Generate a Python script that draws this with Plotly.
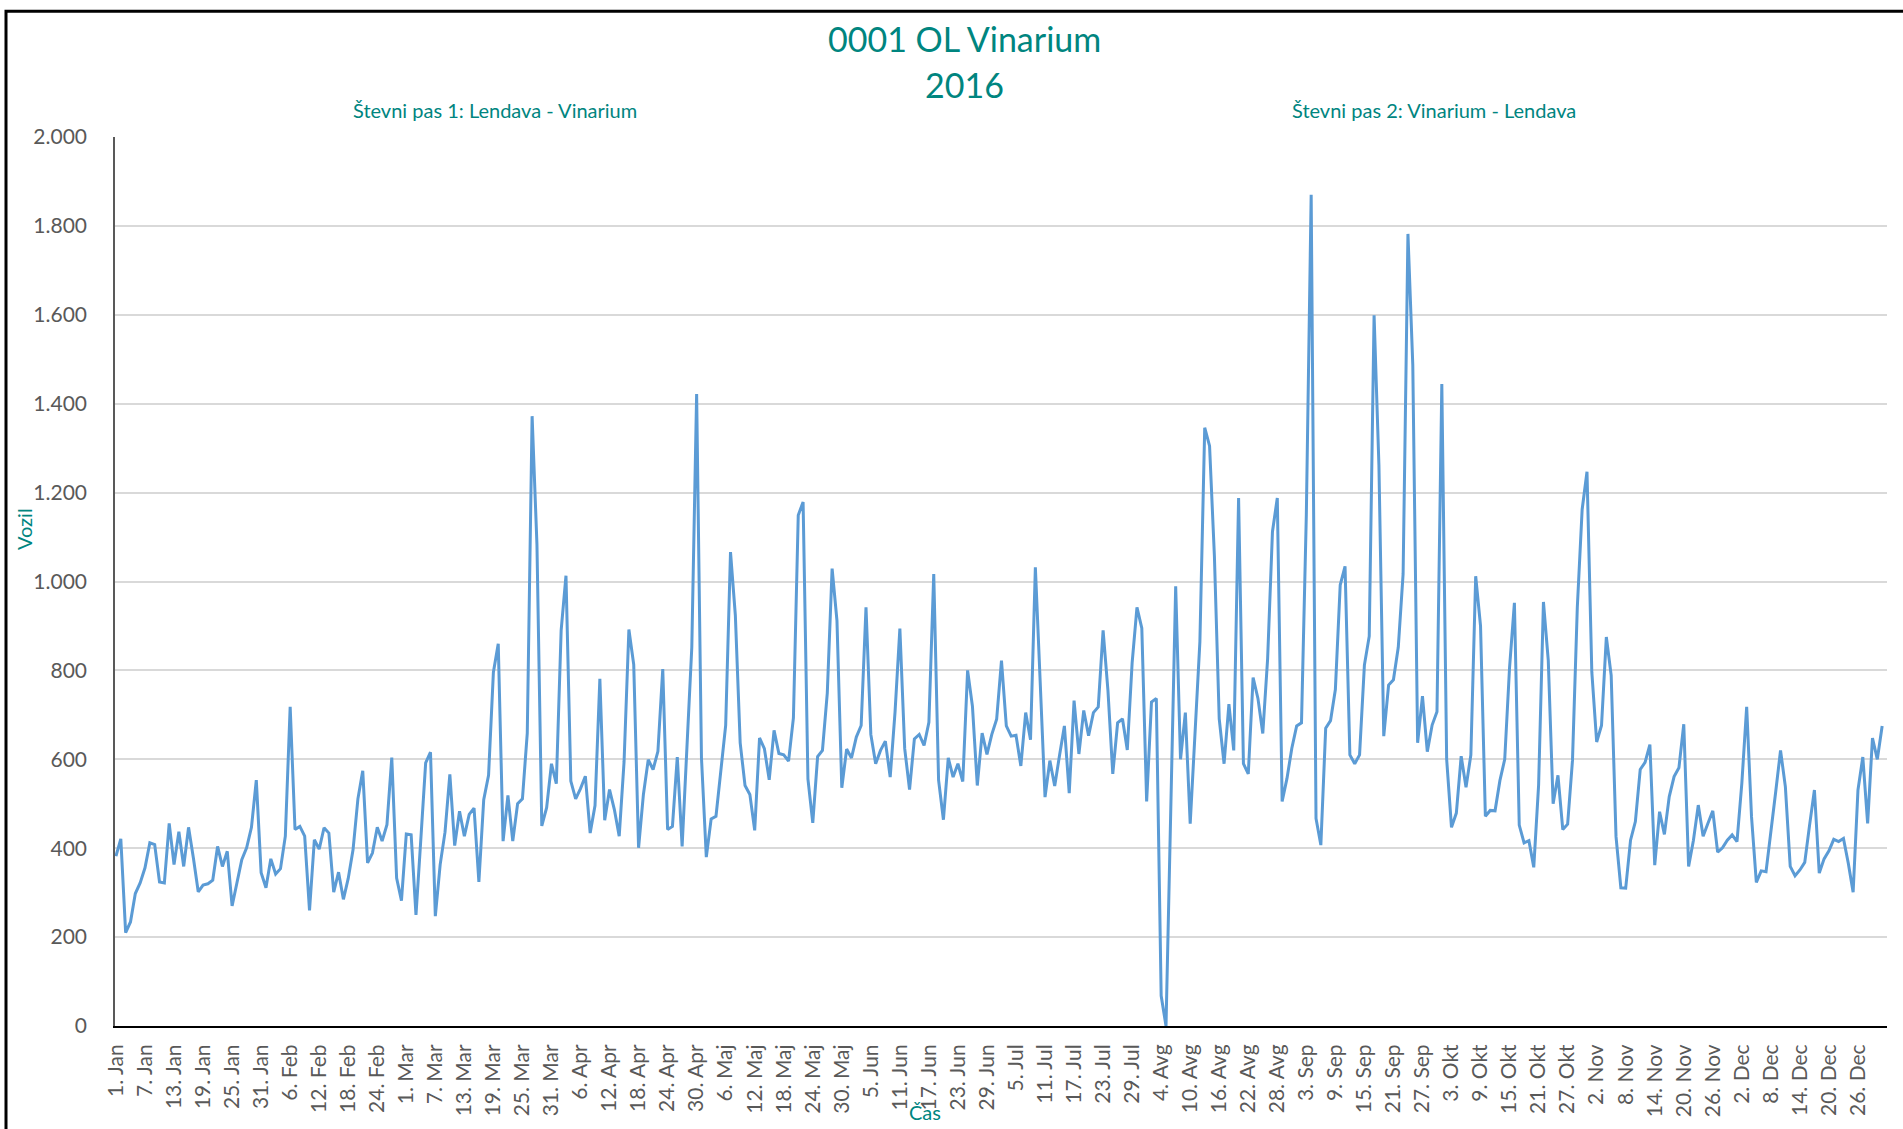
import pandas as pd
import plotly.graph_objects as go

# ---- data (daily vehicle counts, 2016) ----
month_names = ["Jan", "Feb", "Mar", "Apr", "Maj", "Jun", "Jul", "Avg", "Sep", "Okt", "Nov", "Dec"]

jan = [382, 421, 210, 234, 298, 322, 356, 412, 408, 324, 322, 456, 363, 437, 359, 447, 378, 302, 317, 320, 328, 404, 359, 393, 270, 322, 374, 401, 447, 553, 345]
feb = [311, 376, 342, 354, 427, 718, 442, 449, 427, 260, 419, 398, 446, 434, 301, 346, 285, 332, 397, 511, 574, 367, 389, 447, 416, 453, 604, 333, 282]
mar = [432, 430, 250, 420, 592, 616, 247, 363, 436, 566, 406, 483, 427, 476, 490, 324, 509, 564, 796, 860, 416, 519, 416, 500, 511, 659, 1372, 1083, 450, 491, 590]
apr = [545, 890, 1013, 551, 511, 534, 562, 434, 496, 781, 463, 532, 487, 427, 594, 892, 813, 401, 521, 599, 577, 618, 803, 442, 449, 605, 404, 629, 852, 1422]
maj = [603, 380, 466, 472, 569, 676, 1066, 924, 637, 541, 521, 440, 648, 624, 554, 665, 613, 610, 596, 693, 1149, 1179, 556, 457, 606, 620, 749, 1029, 912, 536, 623]
jun = [603, 650, 676, 942, 656, 590, 620, 641, 560, 706, 894, 624, 532, 646, 656, 631, 683, 1017, 553, 464, 603, 560, 590, 550, 800, 719, 541, 659, 611, 656]
jul = [690, 822, 675, 652, 654, 585, 705, 644, 1032, 774, 515, 597, 540, 609, 675, 524, 732, 612, 710, 653, 705, 718, 890, 755, 567, 682, 691, 621, 817, 942, 895]
avg = [505, 729, 737, 68, 0, 463, 989, 600, 705, 455, 661, 864, 1346, 1305, 1058, 691, 590, 724, 620, 1188, 590, 567, 784, 737, 658, 826, 1112, 1188, 505, 557, 625]
sep = [675, 682, 1150, 1870, 467, 407, 670, 687, 757, 992, 1034, 610, 590, 610, 812, 877, 1599, 1262, 652, 767, 779, 852, 1017, 1782, 1487, 637, 742, 617, 677, 707]
okt = [1444, 600, 447, 479, 607, 537, 610, 1012, 900, 472, 485, 484, 552, 600, 807, 952, 452, 412, 417, 357, 542, 954, 822, 500, 564, 442, 454, 597, 942, 1162, 1247]
nov = [796, 639, 676, 875, 789, 426, 311, 310, 418, 460, 577, 593, 633, 362, 482, 431, 516, 561, 581, 679, 359, 418, 497, 427, 456, 484, 391, 401, 418, 430]
dec = [415, 546, 718, 471, 323, 349, 347, 433, 527, 620, 538, 359, 338, 351, 368, 452, 531, 344, 376, 394, 420, 415, 422, 366, 301, 531, 605, 456, 648, 600, 675]

values = jan + feb + mar + apr + maj + jun + jul + avg + sep + okt + nov + dec
dates = pd.date_range("2016-01-01", "2016-12-31", freq="D")
categories = [f"{d.day}. {month_names[d.month - 1]}" for d in dates]
tick_labels = categories[::6]

TEAL = "#00857F"
GREY = "#595959"
FONT = "Lato"

W, H = 1903, 1129
L, R, T, B = 115, 16, 137, 101
PW, PH = W - L - R, H - T - B


def px(x):
    return (x - L) / PW


def py(y):
    return (H - B - y) / PH


fig = go.Figure()
fig.add_trace(go.Scatter(
    x=categories, y=values, mode="lines",
    line=dict(color="#5B9BD5", width=3),
    hoverinfo="x+y", showlegend=False,
))

fig.update_layout(
    width=W, height=H,
    margin=dict(l=L, r=R, t=T, b=B, pad=0),
    paper_bgcolor="white", plot_bgcolor="white",
    separators=",.",
    font=dict(family=FONT, color=GREY),
    xaxis=dict(
        type="category", range=[-0.2, 366.0],
        tickmode="array", tickvals=tick_labels, ticktext=tick_labels,
        tickangle=-90, tickfont=dict(size=21, color=GREY, family=FONT),
        showgrid=False, showline=True, linecolor="#000000", linewidth=2,
        ticks="", ticklabelstandoff=8, zeroline=False,
    ),
    yaxis=dict(
        range=[0, 2000], dtick=200, tickformat=",d",
        tickfont=dict(size=21, color=GREY, family=FONT),
        showgrid=True, gridcolor="#D9D9D9", gridwidth=1.5,
        showline=True, linecolor="#595959", linewidth=1.5,
        ticks="", ticklabelstandoff=22, zeroline=False,
    ),
    annotations=[
        dict(text="0001 OL Vinarium", x=px(964), y=py(38), xref="paper", yref="paper",
             showarrow=False, xanchor="center", yanchor="middle",
             font=dict(size=34, color=TEAL, family=FONT)),
        dict(text="2016", x=px(964), y=py(84), xref="paper", yref="paper",
             showarrow=False, xanchor="center", yanchor="middle",
             font=dict(size=34, color=TEAL, family=FONT)),
        dict(text="Števni pas 1: Lendava - Vinarium", x=px(495), y=py(110), xref="paper", yref="paper",
             showarrow=False, xanchor="center", yanchor="middle",
             font=dict(size=20, color=TEAL, family=FONT)),
        dict(text="Števni pas 2: Vinarium - Lendava", x=px(1434), y=py(110), xref="paper", yref="paper",
             showarrow=False, xanchor="center", yanchor="middle",
             font=dict(size=20, color=TEAL, family=FONT)),
        dict(text="Vozil", x=px(24), y=py(530), xref="paper", yref="paper",
             showarrow=False, xanchor="center", yanchor="middle", textangle=-90,
             font=dict(size=20, color=TEAL, family=FONT)),
        dict(text="Čas", x=px(925), y=py(1114), xref="paper", yref="paper",
             showarrow=False, xanchor="center", yanchor="middle",
             font=dict(size=20, color=TEAL, family=FONT)),
    ],
    shapes=[
        dict(type="rect", xref="paper", yref="paper",
             x0=px(6), x1=px(1915), y0=py(1140), y1=py(11),
             line=dict(color="#000000", width=3), fillcolor="rgba(0,0,0,0)", layer="below"),
    ],
)

fig.write_html(
    "out.html",
    config={"displayModeBar": False},
    post_script="document.body.style.margin='0';document.body.style.overflow='hidden';",
)
